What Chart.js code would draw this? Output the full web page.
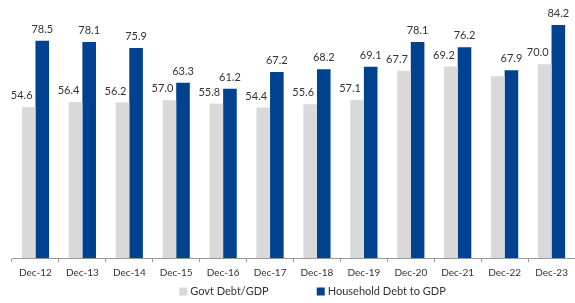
<!DOCTYPE html>
<html>
<head>
<meta charset="utf-8">
<script src="https://cdn.jsdelivr.net/npm/chart.js@4"></script>
<style>
  html, body { margin: 0; padding: 0; background: #fff; }
  #wrap { width: 575px; height: 303px; }
</style>
</head>
<body>
<div id="wrap"><canvas id="debtChart" width="575" height="303"></canvas></div>
<script>
const categories = ["Dec-12", "Dec-13", "Dec-14", "Dec-15", "Dec-16", "Dec-17", "Dec-18", "Dec-19", "Dec-20", "Dec-21", "Dec-22", "Dec-23"];
const govtDebt = [54.6, 56.4, 56.2, 57.0, 55.8, 54.4, 55.6, 57.1, 67.7, 69.2, 65.7, 70.0];
const householdDebt = [78.5, 78.1, 75.9, 63.3, 61.2, 67.2, 68.2, 69.1, 78.1, 76.2, 67.9, 84.2];
// the source shows no value above the grey Dec-22 bar
const hiddenGovtLabels = ["Dec-22"];

const FONT = "Lato, 'Open Sans', sans-serif";

// value labels above bars; grey ones sit a bit left like in the source
const valueLabels = {
  id: "valueLabels",
  afterDatasetsDraw(chart) {
    const ctx = chart.ctx;
    ctx.save();
    ctx.font = "11px " + FONT;
    ctx.fillStyle = "#333";
    ctx.textAlign = "center";
    ctx.textBaseline = "bottom";
    chart.data.datasets.forEach((ds, i) => {
      const meta = chart.getDatasetMeta(i);
      meta.data.forEach((bar, j) => {
        if (i === 0 && hiddenGovtLabels.includes(categories[j])) return;
        const shift = i === 0 ? -7 : 0;
        ctx.fillText(ds.data[j].toFixed(1), bar.x + shift, bar.y - 6);
      });
    });
    ctx.restore();
  }
};

// legend drawn by hand so the gap between items matches the original
const bottomLegend = {
  id: "bottomLegend",
  afterDraw(chart) {
    const ctx = chart.ctx;
    const items = chart.data.datasets.map((ds) => ({ text: ds.label, color: ds.backgroundColor }));
    const box = 8, gapText = 3, gapItem = 48;
    ctx.save();
    ctx.font = "11px " + FONT;
    ctx.textBaseline = "middle";
    ctx.textAlign = "left";
    let total = 0;
    items.forEach((it, k) => {
      it.w = ctx.measureText(it.text).width;
      total += box + gapText + it.w + (k ? gapItem : 0);
    });
    let x = chart.width / 2 + 25 - total / 2;
    const y = 291.5;
    items.forEach((it) => {
      ctx.fillStyle = it.color;
      ctx.fillRect(x, y - box / 2, box, box);
      ctx.fillStyle = "#333";
      ctx.fillText(it.text, x + box + gapText, y);
      x += box + gapText + it.w + gapItem;
    });
    ctx.restore();
  }
};

new Chart(document.getElementById("debtChart").getContext("2d"), {
  type: "bar",
  data: {
    labels: categories,
    datasets: [
      {
        label: "Govt Debt/GDP",
        data: govtDebt,
        backgroundColor: "#d9d9d9",
        categoryPercentage: 0.58,
        barPercentage: 1.0
      },
      {
        label: "Household Debt to GDP",
        data: householdDebt,
        backgroundColor: "#00428f",
        categoryPercentage: 0.58,
        barPercentage: 1.0
      }
    ]
  },
  options: {
    responsive: false,
    animation: false,
    layout: { padding: { left: 12, right: 0, top: 9, bottom: 19 } },
    plugins: {
      tooltip: { enabled: false },
      legend: { display: false }
    },
    scales: {
      x: {
        grid: {
          offset: true,
          drawOnChartArea: false,
          tickLength: 4,
          color: "#999"
        },
        border: { color: "#999" },
        ticks: {
          color: "#333",
          padding: 5,
          maxRotation: 0,
          font: { family: FONT, size: 10 }
        }
      },
      y: {
        display: false,
        min: 0,
        max: 90
      }
    }
  },
  plugins: [valueLabels, bottomLegend]
});
</script>
</body>
</html>
